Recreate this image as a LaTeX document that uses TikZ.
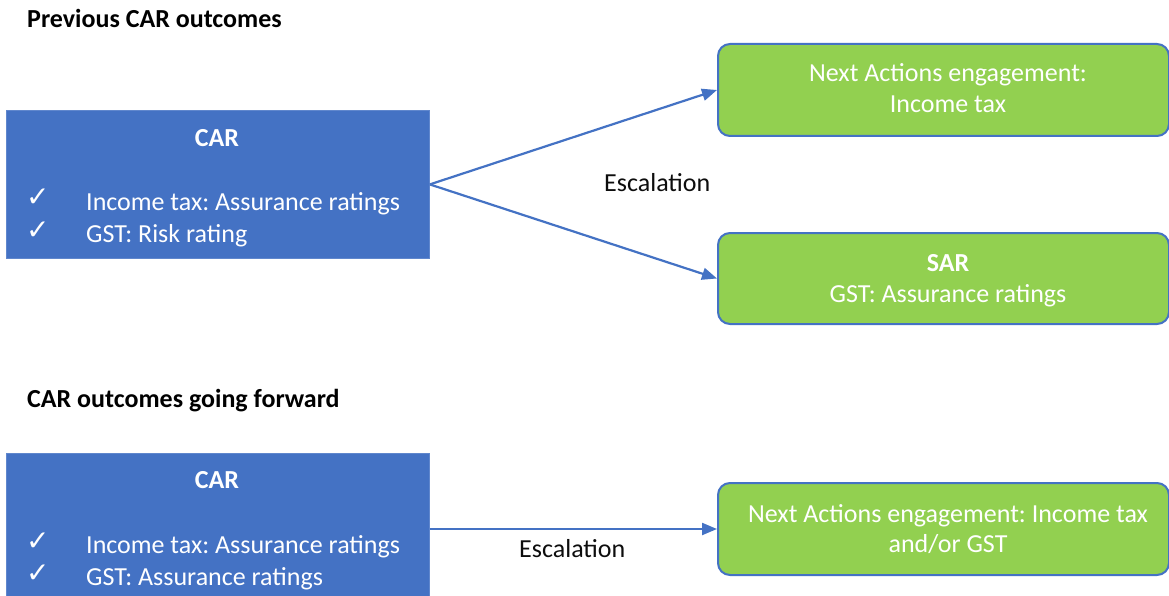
\documentclass[tikz,border=0pt]{standalone}
\usepackage{fontspec}
\setmainfont{Carlito}
\newfontfamily\checkfont{DejaVu Sans}
\usetikzlibrary{arrows.meta}
\definecolor{bluebox}{HTML}{4472C4}
\definecolor{greenbox}{HTML}{92D050}
\definecolor{darktext}{HTML}{0D0D0D}
\frenchspacing
\tikzset{
  bluerect/.style={draw=bluebox!85!white, fill=bluebox, line width=0.8pt, inner sep=0pt, anchor=north west},
  greenrect/.style={draw=bluebox, fill=greenbox, line width=2pt, rounded corners=12pt, inner sep=0pt, anchor=north west},
  txt/.style={font=\fontsize{26}{32}\selectfont, inner sep=0pt, anchor=base},
  wtxt/.style={txt, text=white},
  btxt/.style={txt, text=white, font=\fontsize{26}{32}\selectfont\bfseries},
  titletxt/.style={txt, anchor=base west, text=black, font=\fontsize{26}{32}\selectfont\bfseries},
  ticktxt/.style={inner sep=0pt, anchor=base west, text=white, font=\fontsize{28}{32}\selectfont\checkfont},
  link/.style={draw=bluebox, line width=2.2pt, -{Triangle[length=15pt,width=12pt]}}
}
\begin{document}
\begin{tikzpicture}[x=1pt,y=-1pt]
\clip (0,0) rectangle (1169,596);
\fill[white] (0,0) rectangle (1169,596);

% top section
\node[titletxt] (t1) at (27,28) {Previous CAR outcomes};
\node[bluerect, minimum width=423pt, minimum height=148pt] (car1) at (6,110) {};
\node[btxt] (car1h) at (217,147) {CAR};
\node[ticktxt] (car1c1) at (26,207) {✓};
\node[ticktxt] (car1c2) at (26,239) {✓};
\node[wtxt, anchor=base west] (car1l1) at (86,210) {Income tax: Assurance ratings};
\node[wtxt, anchor=base west] (car1l2) at (86,242) {GST: Risk rating};

\node[greenrect, minimum width=451pt, minimum height=92pt] (g1) at (717,43) {};
\node[wtxt] (g1a) at (948,82) {Next Actions engagement:};
\node[wtxt] (g1b) at (948,113) {Income tax};

\node[greenrect, minimum width=451pt, minimum height=91pt] (g2) at (717,232) {};
\node[btxt] (g2a) at (948,271) {SAR};
\node[wtxt] (g2b) at (948,302) {GST: Assurance ratings};

\draw[link] (car1.east) -- (g1.west);
\draw[link] (car1.east) -- (g2.west);
\node[txt, anchor=base west, text=darktext] (esc1) at (604,192) {Escalation};

% bottom section
\node[titletxt] (t2) at (27,407) {CAR outcomes going forward};
\node[bluerect, minimum width=423pt, minimum height=160pt] (car2) at (6,453) {};
\node[btxt] (car2h) at (217,488) {CAR};
\node[ticktxt] (car2c1) at (26,550) {✓};
\node[ticktxt] (car2c2) at (26,582) {✓};
\node[wtxt, anchor=base west] (car2l1) at (86,553) {Income tax: Assurance ratings};
\node[wtxt, anchor=base west] (car2l2) at (86,585) {GST: Assurance ratings};

\node[greenrect, minimum width=451pt, minimum height=92pt] (g3) at (717,482) {};
\node[wtxt] (g3a) at (948,522) {Next Actions engagement: Income tax};
\node[wtxt] (g3b) at (948,552) {and/or GST};

\draw[link] (car2.east |- g3.west) -- (g3.west);
\node[txt, anchor=base west, text=darktext] (esc2) at (519,557) {Escalation};
\end{tikzpicture}
\end{document}
